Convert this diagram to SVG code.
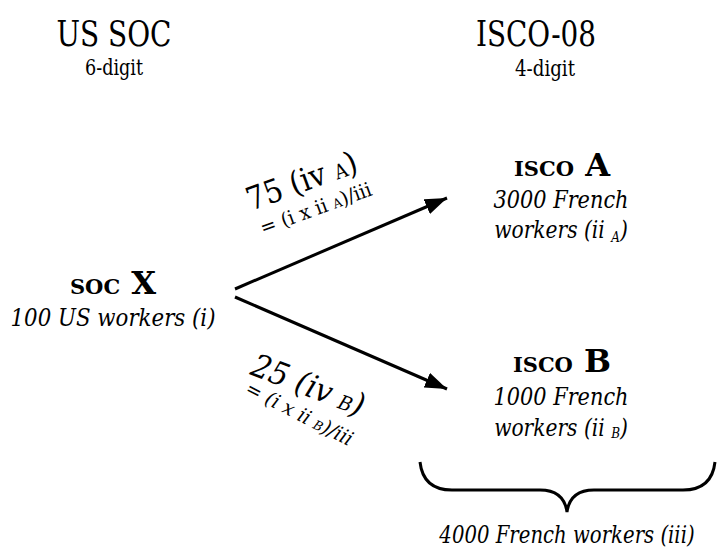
<svg xmlns="http://www.w3.org/2000/svg" width="721" height="553" viewBox="0 0 721 553">
<style>
text{fill:#000;font-family:"DejaVu Serif","Liberation Serif",serif}
.hd{font-size:36px}
.sub{font-size:22px}
.it{font-style:italic;font-size:23.5px}
.sc{font-weight:bold;font-size:21px}
.bg{font-weight:bold;font-size:32px}
.lbl{font-size:32px}
.frm{font-size:20px}
.small{font-size:14px}
.conn{stroke:#000;stroke-width:3;fill:none}
</style>
<defs>
<marker id="ah" markerUnits="userSpaceOnUse" markerWidth="22" markerHeight="16" viewBox="0 0 22 16" refX="22" refY="8" orient="auto">
<path d="M0,0 L22,8 L0,16 z" fill="#000"/>
</marker>
</defs>
<g id="header-soc">
<text class="hd" x="114" y="46" text-anchor="middle" textLength="115" lengthAdjust="spacingAndGlyphs">US SOC</text>
<text class="sub" x="114" y="75" text-anchor="middle" textLength="58" lengthAdjust="spacingAndGlyphs">6-digit</text>
</g>
<g id="header-isco">
<text class="hd" x="536" y="46" text-anchor="middle" textLength="120" lengthAdjust="spacingAndGlyphs">ISCO-08</text>
<text class="sub" x="545" y="76" text-anchor="middle" textLength="60" lengthAdjust="spacingAndGlyphs">4-digit</text>
</g>
<g id="soc-x">
<text x="113" y="294" text-anchor="middle"><tspan class="sc">SOC</tspan><tspan class="bg"> X</tspan></text>
<text class="it" x="113" y="326" text-anchor="middle" textLength="205" lengthAdjust="spacingAndGlyphs">100 US workers (i)</text>
</g>
<g id="isco-a">
<text x="562" y="176" text-anchor="middle"><tspan class="sc">ISCO</tspan><tspan class="bg"> A</tspan></text>
<text class="it" x="561" y="208" text-anchor="middle" textLength="135" lengthAdjust="spacingAndGlyphs">3000 French</text>
<text class="it" transform="translate(561,238) scale(0.86,1)" text-anchor="middle">workers (ii <tspan class="small" dy="4">A</tspan><tspan dy="-4">)</tspan></text>
</g>
<g id="isco-b">
<text x="562" y="372" text-anchor="middle"><tspan class="sc">ISCO</tspan><tspan class="bg"> B</tspan></text>
<text class="it" x="561" y="405" text-anchor="middle" textLength="135" lengthAdjust="spacingAndGlyphs">1000 French</text>
<text class="it" transform="translate(561,436) scale(0.86,1)" text-anchor="middle">workers (ii <tspan class="small" dy="2">B</tspan><tspan dy="-2">)</tspan></text>
</g>
<g id="total">
<path class="conn" d="M420,462 C422,480 432,490 452,490 L540,490 C556,490 565,498 567,512 C569,498 578,490 594,490 L683,490 C703,490 713,480 715,462"/>
<text class="it" transform="translate(567,543) scale(0.82,1)" text-anchor="middle" style="font-size:24px">4000 French workers (iii)</text>
</g>
<g id="connectors">
<line class="conn" x1="235" y1="289" x2="447" y2="198" marker-end="url(#ah)"/>
<line class="conn" x1="235" y1="297" x2="447" y2="389" marker-end="url(#ah)"/>
</g>
<g id="label-a">
<text class="lbl" transform="translate(251,211) rotate(-20) scale(0.9,1)">75 (iv <tspan style="font-size:20px">A</tspan>)</text>
<text class="frm" transform="translate(263,235) rotate(-20) scale(0.95,1)">= (i x ii <tspan style="font-size:13px">A</tspan>)/iii</text>
</g>
<g id="label-b">
<text class="lbl" style="font-style:italic" transform="translate(249,374) rotate(21) scale(0.92,1)">25 (iv <tspan style="font-size:20px">B</tspan>)</text>
<text class="frm" style="font-style:italic" transform="translate(244,393) rotate(27) scale(0.95,1)">= (i x ii <tspan style="font-size:13px">B</tspan>)/iii</text>
</g>
</svg>
